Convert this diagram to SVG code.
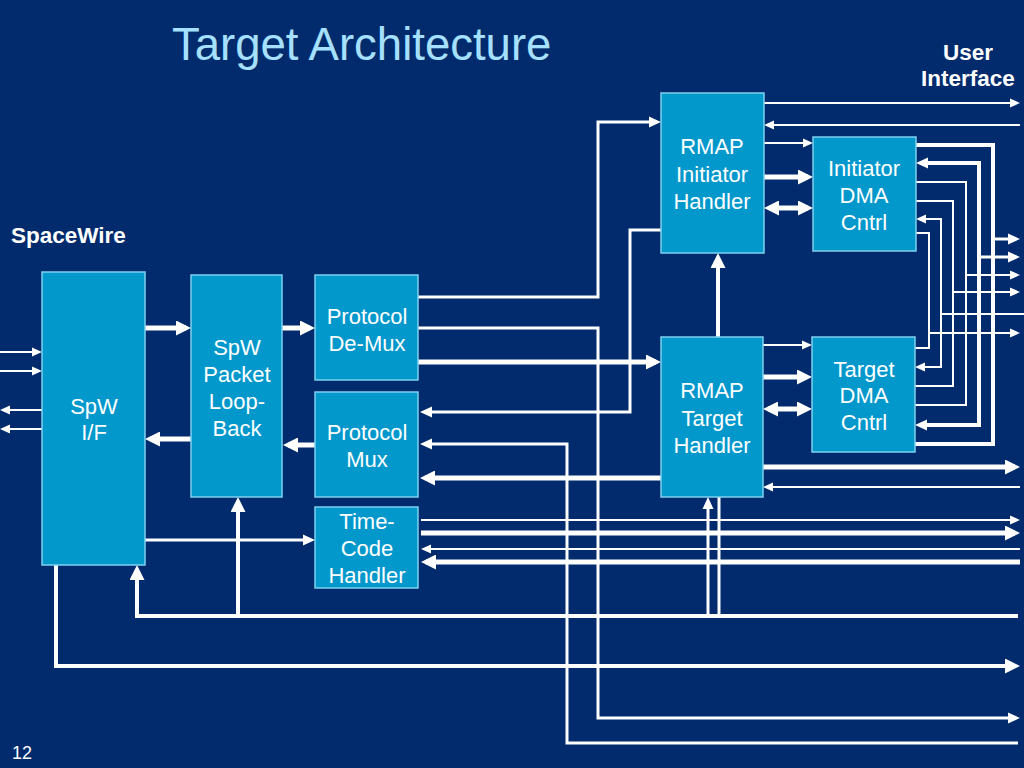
<svg xmlns="http://www.w3.org/2000/svg" width="1024" height="768" viewBox="0 0 1024 768">
<style>
.bg{fill:#012b6c}
.box{fill:#0398cc;stroke:#7fd0f0;stroke-width:1.5}
.t{font-family:"Liberation Sans",Arial,sans-serif;font-size:22px;fill:#ffffff;text-anchor:middle}
.lbl{font-family:"Liberation Sans",Arial,sans-serif;font-size:22.5px;font-weight:bold;fill:#ffffff}
.title{font-family:"Liberation Sans",Arial,sans-serif;font-size:45.5px;fill:#a6e0ff}
.c path{fill:none;stroke:#ffffff;stroke-linejoin:miter}
.w2{stroke-width:2}
.w3{stroke-width:3}
.w4{stroke-width:4}
.w5{stroke-width:5}
.eS{marker-end:url(#aS)}
.eM{marker-end:url(#aM)}
.eL{marker-end:url(#aL)}
.bS{marker-start:url(#aS);marker-end:url(#aS)}
.bM{marker-start:url(#aM);marker-end:url(#aM)}
.bL{marker-start:url(#aL);marker-end:url(#aL)}
</style>
<defs>
<marker id="aS" markerUnits="userSpaceOnUse" markerWidth="10" markerHeight="10" refX="5" refY="5" orient="auto-start-reverse"><path d="M0,0.5 L10,5 L0,9.5 z" fill="#ffffff"/></marker>
<marker id="aM" markerUnits="userSpaceOnUse" markerWidth="12" markerHeight="12" refX="7" refY="6" orient="auto-start-reverse"><path d="M0,0.5 L12,6 L0,11.5 z" fill="#ffffff"/></marker>
<marker id="aL" markerUnits="userSpaceOnUse" markerWidth="15" markerHeight="15" refX="10" refY="7.5" orient="auto-start-reverse"><path d="M0,0 L15,7.5 L0,15 z" fill="#ffffff"/></marker>
</defs>
<rect class="bg" x="0" y="0" width="1024" height="768"/>
<text class="title" x="172" y="60">Target Architecture</text>
<text class="lbl" x="968" y="60" text-anchor="middle">User</text>
<text class="lbl" x="968" y="86" text-anchor="middle">Interface</text>
<text class="lbl" x="11" y="243">SpaceWire</text>
<text x="12" y="759" style="font-family:'Liberation Sans',Arial,sans-serif;font-size:18px;fill:#ffffff">12</text>

<g id="connectors" class="c">
<path class="w2 eS" d="M0 352 H37"/>
<path class="w2 eS" d="M0 371 H37"/>
<path class="w2 eS" d="M42 410 H5"/>
<path class="w2 eS" d="M42 429 H5"/>
<path class="w5 eL" d="M145 328 H186"/>
<path class="w5 eL" d="M191 439 H150"/>
<path class="w5 eL" d="M282 328 H310"/>
<path class="w5 eL" d="M315 445 H288"/>
<path class="w3 eM" d="M145 540 H310"/>
<path class="w4 eL" d="M1018 616 H137 V570"/>
<path class="w4 eL" d="M238 616 V502"/>
<path class="w4 eL" d="M56 565 V666 H1015"/>
<path class="w3 eM" d="M418 297 H598 V122 H656"/>
<path class="w3 eM" d="M418 328 H598 V718 H1015"/>
<path class="w3 eM" d="M1018 743 H567 V444 H425"/>
<path class="w3 eM" d="M661 230 H630 V412 H425"/>
<path class="w5 eL" d="M418 362 H656"/>
<path class="w5 eL" d="M661 478 H425"/>
<path class="w4 eL" d="M718 337 V258"/>
<path class="w5 eL" d="M763 467 H1015"/>
<path class="w2 eS" d="M1020 487 H768"/>
<path class="w3 eM" d="M708 616 V502"/>
<path class="w3" d="M719 497 V616"/>
<path class="w2 eS" d="M421 520 H1015"/>
<path class="w5 eL" d="M421 533 H1015"/>
<path class="w2 eS" d="M1020 549 H426"/>
<path class="w5 eL" d="M1020 562 H426"/>
<path class="w2 eS" d="M764 103 H1015"/>
<path class="w2 eS" d="M1020 125 H769"/>
<path class="w2 eS" d="M764 143 H808"/>
<path class="w5 eL" d="M764 177 H808"/>
<path class="w5 bL" d="M769 208 H808"/>
<path class="w2 eS" d="M763 345 H807"/>
<path class="w5 eL" d="M763 377 H807"/>
<path class="w5 bL" d="M768 409 H807"/>
<path class="w4" d="M916 145 H993 V444 H915"/>
<path class="w3 eM" d="M993 239 H1015"/>
<path class="w4 bM" d="M921 163 H979 V425 H920"/>
<path class="w3 eM" d="M979 257 H1015"/>
<path class="w2" d="M916 182 H966 V405 H915"/>
<path class="w2 eS" d="M966 275 H1015"/>
<path class="w2" d="M916 201 H953 V386 H915"/>
<path class="w2 eS" d="M953 292 H1015"/>
<path class="w2 bS" d="M921 219 H941 V367 H920"/>
<path class="w2" d="M941 314 H1024"/>
<path class="w2" d="M916 233 H929 V348 H915"/>
<path class="w2 eS" d="M929 333 H1015"/>
</g>

<g id="spw-if"><rect class="box" x="42" y="272" width="103" height="293"/><text class="t" x="94" y="414">SpW</text><text class="t" x="94" y="440">I/F</text></g>
<g id="loopback"><rect class="box" x="191" y="275" width="91" height="222"/><text class="t" x="237" y="355">SpW</text><text class="t" x="237" y="382">Packet</text><text class="t" x="237" y="409">Loop-</text><text class="t" x="237" y="436">Back</text></g>
<g id="demux"><rect class="box" x="315" y="275" width="103" height="105"/><text class="t" x="367" y="324">Protocol</text><text class="t" x="367" y="351">De-Mux</text></g>
<g id="mux"><rect class="box" x="315" y="392" width="103" height="105"/><text class="t" x="367" y="440">Protocol</text><text class="t" x="367" y="467">Mux</text></g>
<g id="timecode"><rect class="box" x="315" y="507" width="103" height="81"/><text class="t" x="367" y="529">Time-</text><text class="t" x="367" y="556">Code</text><text class="t" x="367" y="583">Handler</text></g>
<g id="rmap-init"><rect class="box" x="661" y="93" width="103" height="160"/><text class="t" x="712" y="154">RMAP</text><text class="t" x="712" y="182">Initiator</text><text class="t" x="712" y="209">Handler</text></g>
<g id="rmap-target"><rect class="box" x="661" y="337" width="102" height="160"/><text class="t" x="712" y="398">RMAP</text><text class="t" x="712" y="426">Target</text><text class="t" x="712" y="453">Handler</text></g>
<g id="init-dma"><rect class="box" x="813" y="137" width="103" height="114"/><text class="t" x="864" y="176">Initiator</text><text class="t" x="864" y="203">DMA</text><text class="t" x="864" y="230">Cntrl</text></g>
<g id="target-dma"><rect class="box" x="812" y="337" width="103" height="115"/><text class="t" x="864" y="377">Target</text><text class="t" x="864" y="403">DMA</text><text class="t" x="864" y="430">Cntrl</text></g>
</svg>
